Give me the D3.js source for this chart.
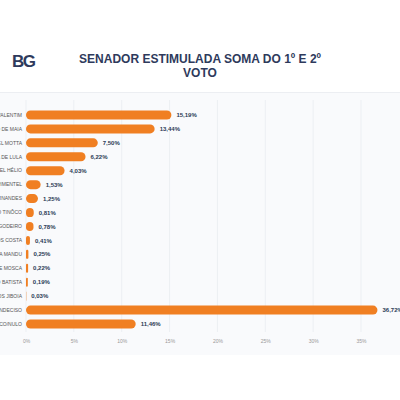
<!DOCTYPE html>
<html>
<head>
<meta charset="utf-8">
<script src="https://cdn.jsdelivr.net/npm/d3@7.9.0/dist/d3.min.js"></script>
<style>
  html, body { margin: 0; padding: 0; background: #fff; }
  svg { display: block; font-family: "Liberation Sans", Arial, sans-serif; }
</style>
</head>
<body>
<svg id="chart" width="400" height="400"></svg>
<script>
const candidates = [
  'STYVENSON VALENTIM', 'JOSÉ AGRIPINO DE MAIA', 'RAFAEL MOTTA', 'MÁRCIA DE LULA',
  'CORONEL HÉLIO', 'ALEXANDRE PIMENTEL', 'DANIEL FERNANDES', 'MARCELO TINÔCO',
  'LUIZ GODEIRO', 'CARLOS COSTA', 'TATIANA MANDU', 'JORGE MOSCA',
  'GERALDO BATISTA', 'MARCOS JIBOIA', 'INDECISO', 'BRANCO/NULO'
];
const percents = [15.19, 13.44, 7.50, 6.22, 4.03, 1.53, 1.25, 0.81, 0.78, 0.41, 0.25, 0.22, 0.19, 0.03, 36.72, 11.46];
const ticks = [0, 5, 10, 15, 20, 25, 30, 35];
const titleLines = ['SENADOR ESTIMULADA SOMA DO 1º E 2º', 'VOTO'];

const data = candidates.map((name, i) => ({ name, value: percents[i] }));
const svg = d3.select('#chart');

// header + panel
svg.append('rect').attr('x', 0).attr('y', 93).attr('width', 400).attr('height', 262).attr('fill', '#f9fafc');
svg.append('line').attr('x1', 0).attr('x2', 400).attr('y1', 92.5).attr('y2', 92.5)
  .attr('stroke', '#eceef2');

svg.append('text').attr('x', 12).attr('y', 67)
  .attr('font-size', 17).attr('font-weight', 900).attr('letter-spacing', -1.5)
  .attr('fill', '#2e3a5c').text('BG');

svg.append('text').attr('text-anchor', 'middle').attr('font-size', 12).attr('font-weight', 'bold')
  .attr('fill', '#2e3a5c')
  .selectAll('tspan').data(titleLines).join('tspan')
  .attr('x', 200).attr('y', (d, i) => 63 + i * 14).text(d => d);

const x = d3.scaleLinear().domain([0, 35]).range([26, 361]);
const y = d3.scaleBand().domain(candidates).range([108, 331]).paddingInner(0.35).paddingOuter(0.175);

// grid
svg.append('g').selectAll('line').data(ticks).join('line')
  .attr('x1', d => x(d)).attr('x2', d => x(d))
  .attr('y1', 100).attr('y2', 332)
  .attr('stroke', '#eceff3');

const axis = svg.append('g').attr('transform', 'translate(0,336)')
  .call(d3.axisBottom(x).tickValues(ticks).tickSize(0).tickFormat(d => d + '%'));
axis.select('.domain').remove();
axis.selectAll('text').attr('font-size', 5).attr('fill', '#999').attr('font-family', 'Liberation Sans, Arial, sans-serif');

// bars
svg.append('g').selectAll('rect').data(data).join('rect')
  .attr('x', x(0))
  .attr('y', d => y(d.name))
  .attr('width', d => x(d.value) - x(0))
  .attr('height', y.bandwidth())
  .attr('rx', d => Math.min(4.5, (x(d.value) - x(0)) / 2))
  .attr('fill', '#f07f22');

svg.append('g').selectAll('text').data(data).join('text')
  .attr('x', 22)
  .attr('y', d => y(d.name) + y.bandwidth() / 2)
  .attr('dy', '0.35em')
  .attr('text-anchor', 'end')
  .attr('font-size', 5)
  .attr('fill', '#555')
  .text(d => d.name);

svg.append('g').selectAll('text').data(data).join('text')
  .attr('x', d => x(d.value) + 5)
  .attr('y', d => y(d.name) + y.bandwidth() / 2)
  .attr('dy', '0.35em')
  .attr('font-size', 6)
  .attr('font-weight', 'bold')
  .attr('fill', '#2b3a55')
  .text(d => d3.format('.2f')(d.value).replace('.', ',') + '%');
</script>
</body>
</html>
